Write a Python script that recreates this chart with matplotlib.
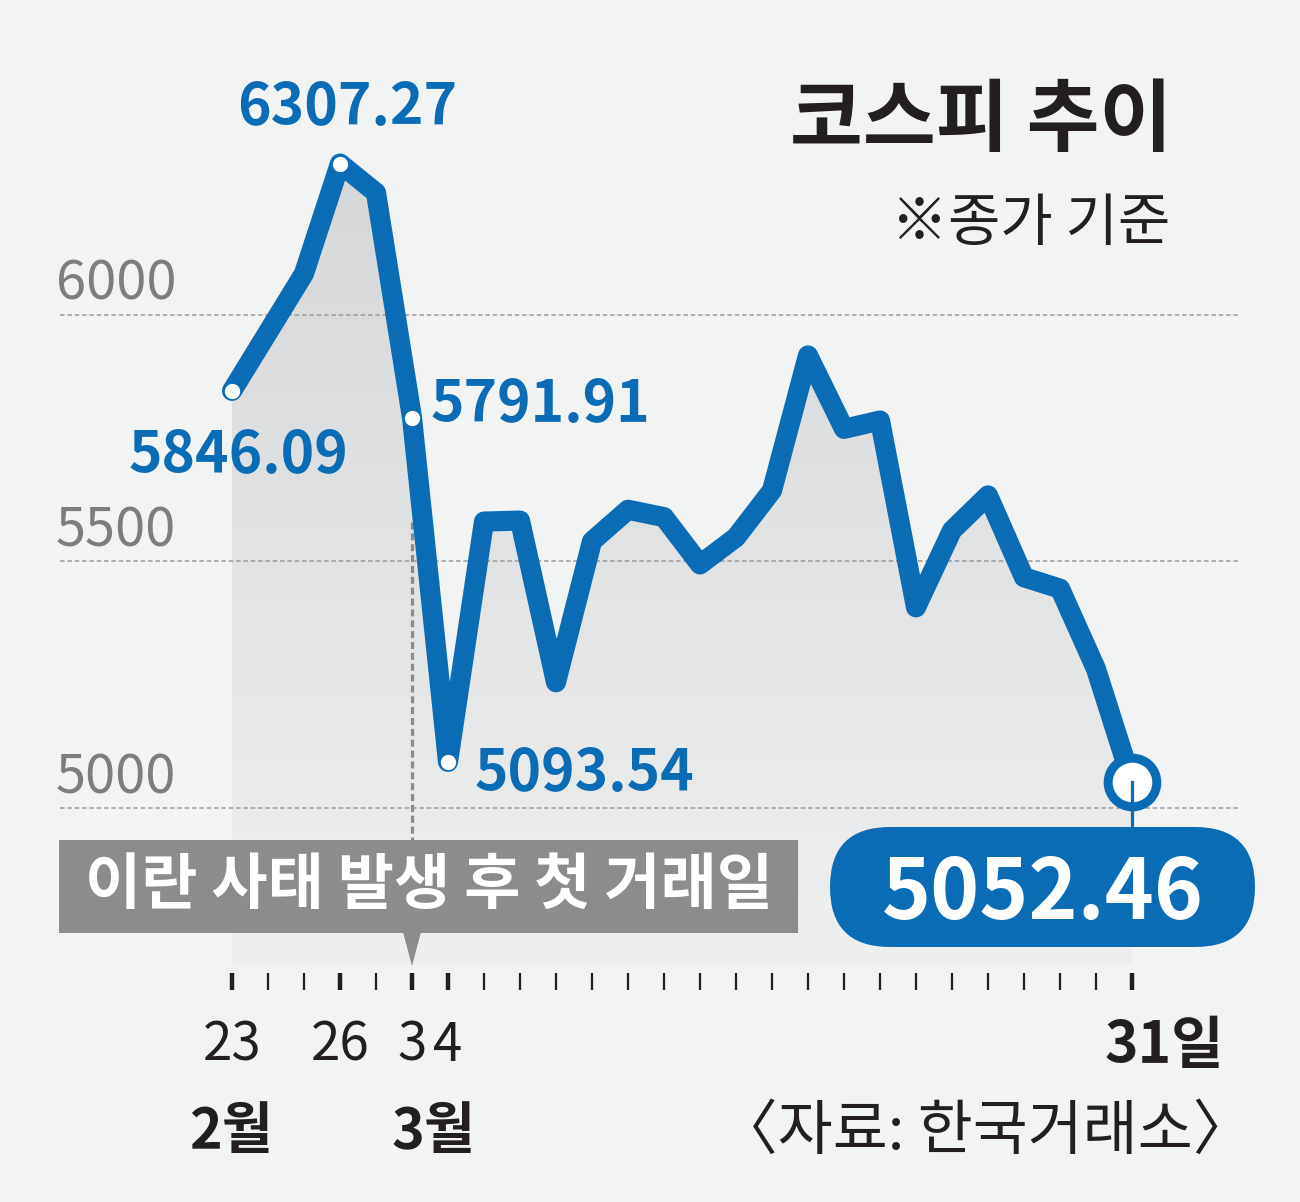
import numpy as np
import matplotlib
matplotlib.use("Agg")
import matplotlib.pyplot as plt
from matplotlib.patches import Rectangle, FancyBboxPatch, Polygon
from matplotlib.transforms import Affine2D
from matplotlib.colors import LinearSegmentedColormap

# 코스피 종가 (2월 23일 ~ 3월 31일)
dates = ['2/23', '2/24', '2/25', '2/26', '2/27', '3/3', '3/4', '3/5', '3/6',
         '3/9', '3/10', '3/11', '3/12', '3/13', '3/16', '3/17', '3/18', '3/19',
         '3/20', '3/23', '3/24', '3/25', '3/26', '3/27', '3/30', '3/31']
kospi = [5846.09, 5965, 6084, 6307.27, 6248, 5791.91, 5093.54, 5581, 5583,
         5255, 5541, 5605, 5590, 5494, 5549, 5644, 5918, 5769, 5786, 5407,
         5563, 5634, 5468, 5445, 5282, 5052.46]
tick_labels = {'2/23': '23', '2/26': '26', '3/3': '3', '3/4': '4'}
labeled = ['2/23', '2/26', '3/3', '3/4', '3/31']
gridvals = [6000, 5500, 5000]

BLUE = '#0b6cb6'
BG = '#f2f3f3'
DARK = '#231f20'
NUM = ['Noto Sans CJK KR', 'DejaVu Sans']
KR = ['Noto Sans CJK KR', 'DejaVu Sans']

W, H = 1300, 1202
fig = plt.figure(figsize=(W / 100, H / 100), dpi=100, facecolor=BG)
ax = fig.add_axes([0, 0, 1, 1])
ax.set_facecolor(BG)
ax.axis('off')

# 픽셀 좌표 <-> 데이터 좌표
x0, dx = 232, 36
y6000, sy = 315, 0.493
ax.set_xlim(-x0 / dx, (W - x0) / dx)
ax.set_ylim(6000 - (H - y6000) / sy, 6000 + y6000 / sy)
pix = Affine2D().scale(1 / W, -1 / H).translate(0, 1) + fig.transFigure


def py(y):
    return 6000 - (y - y6000) / sy


x = np.arange(len(dates))

# 그라데이션 영역
bottom = py(965)
poly = ax.fill_between(x, kospi, bottom, facecolor='none', edgecolor='none')
cmap = LinearSegmentedColormap.from_list('g', ['#d6d7d8', '#eeefef'])
grad = np.linspace(0, 1, 256).reshape(-1, 1)
im = ax.imshow(grad, cmap=cmap, aspect='auto', origin='upper',
               extent=[x[0], x[-1], bottom, max(kospi)], zorder=1)
im.set_clip_path(poly.get_paths()[0], transform=ax.transData)

# 격자선
for g in gridvals:
    ax.plot([(60 - x0) / dx, (1240 - x0) / dx], [g, g], color='#9b9b9b',
            lw=1.1, ls=(0, (3, 1.8)), zorder=2)
    fig.text(56, 315 + (6000 - g) * sy - 15, str(g), transform=pix,
             fontsize=39, family=NUM, color='#7d7d7d', ha='left', va='baseline')

# 이란 사태 표시선
i_evt = dates.index('3/3')
ax.plot([i_evt, i_evt], [py(522), py(840)], color='#8c8c8c', lw=2.3,
        ls=(0, (2.2, 1.2)), zorder=2)

# 코스피 선
ax.plot(x, kospi, color=BLUE, lw=14.5, solid_joinstyle='round',
        solid_capstyle='round', zorder=3)
for d in labeled[:-1]:
    i = dates.index(d)
    ax.plot(i, kospi[i], 'o', ms=10, color='white', mec='white', zorder=4)
ax.plot(x[-1], kospi[-1], 'o', ms=35, mfc='white', mec=BLUE, mew=6.5, zorder=4)
ax.plot([x[-1], x[-1]], [kospi[-1], py(830)], color=BLUE, lw=2.3, zorder=5)

# 값 라벨
for idx, cx, base in [(3, 347, 125), (0, 238, 473), (5, 540, 422), (6, 584, 791)]:
    fig.text(cx, base, f'{kospi[idx]:.2f}', transform=pix, fontsize=41,
             fontweight='bold', family=NUM, color=BLUE, ha='center',
             va='baseline')

# 회색 박스
fig.patches.append(Rectangle((59, 840), 739, 93, transform=pix,
                             facecolor='#8c8c8c', edgecolor='none'))
fig.patches.append(Polygon([(403, 932), (421, 932), (412, 966)], closed=True,
                           transform=pix, facecolor='#8c8c8c', edgecolor='none'))
fig.text(429, 886, '이란 사태 발생 후 첫 거래일', transform=pix, fontsize=44,
         fontweight='bold', family=KR, color='white', ha='center', va='center')

# 파란 박스
fig.patches.append(FancyBboxPatch((830, 827), 425, 120, transform=pix,
                                  boxstyle='round,pad=0,rounding_size=60',
                                  facecolor=BLUE, edgecolor='none'))
fig.text(1043, 919, f'{kospi[-1]:.2f}', transform=pix, fontsize=60,
         fontweight='bold', family=NUM, color='white', ha='center', va='baseline')

# 제목
fig.text(1172, 121, '코스피 추이', transform=pix, fontsize=57, fontweight='bold',
         family=KR, color=DARK, ha='right', va='center')
fig.text(1170, 224, '※종가 기준', transform=pix, fontsize=41,
         family=KR, color=DARK, ha='right', va='center')

# x축 눈금
thick = [dates.index(d) for d in labeled]
thin = [i for i in x if i not in thick]
ax.vlines(thin, py(990), py(973), color=DARK, lw=1.6, zorder=2)
ax.vlines(thick, py(990), py(973), color=DARK, lw=3.2, zorder=2)
for d, lab in tick_labels.items():
    i = dates.index(d)
    ax.text(i, py(1061), lab, fontsize=38, family=NUM, color=DARK,
            ha='center', va='baseline')
fig.text(1224, 1063, '31일', transform=pix, fontsize=41, fontweight='bold',
         family=NUM, color=DARK, ha='right', va='baseline')
fig.text(189, 1148, '2월', transform=pix, fontsize=40, fontweight='bold',
         family=NUM, color=DARK, ha='left', va='baseline')
fig.text(392, 1148, '3월', transform=pix, fontsize=40, fontweight='bold',
         family=NUM, color=DARK, ha='left', va='baseline')
fig.text(1252, 1149, '〈자료: 한국거래소〉', transform=pix, fontsize=43,
         family=KR, color=DARK, ha='right', va='baseline')

fig.savefig('out.png', dpi=100, facecolor=BG)
